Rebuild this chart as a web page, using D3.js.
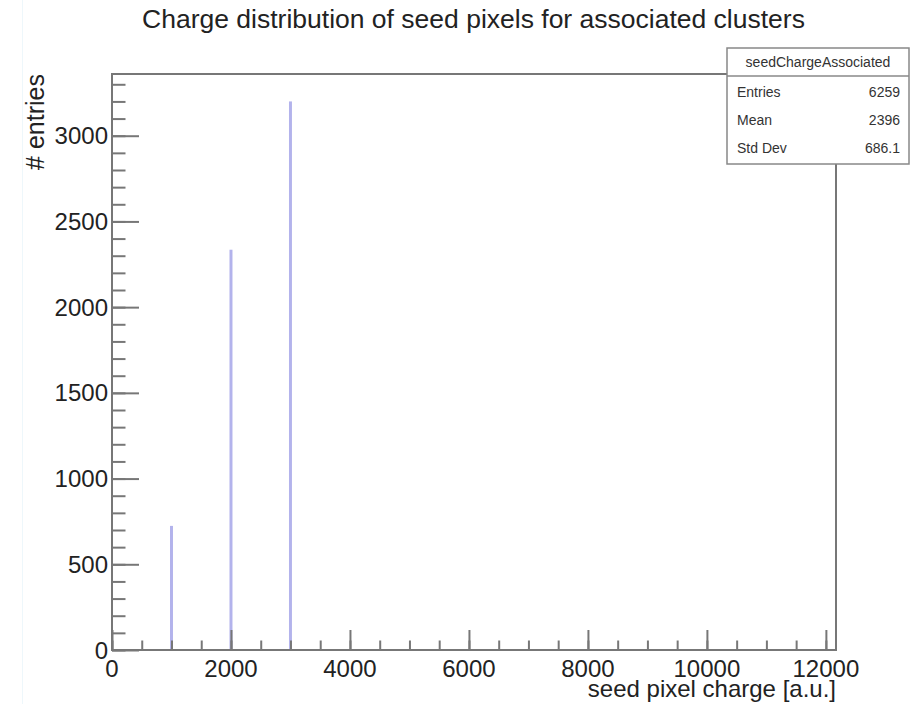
<!DOCTYPE html>
<html>
<head>
<meta charset="utf-8">
<script src="https://cdn.jsdelivr.net/npm/d3@7"></script>
<style>
  html, body { margin: 0; padding: 0; background: #fff; }
  svg { display: block; font-family: "Liberation Sans", Arial, sans-serif; }
</style>
</head>
<body>
<svg id="chart" width="920" height="704"></svg>
<script>
// ---- data ----
const binCenters = [1000, 2000, 3000];
const binCounts = [724, 2335, 3200];
const binWidth = 50;
const xDomain = [0, 12170];
const yDomain = [0, 3360];
const xMajorTicks = [0, 2000, 4000, 6000, 8000, 10000, 12000];
const xMinorTicks = d3.range(0, 12001, 500);
const yMajorTicks = [0, 500, 1000, 1500, 2000, 2500, 3000];
const yMinorTicks = d3.range(0, 3301, 100);
const statsName = "seedChargeAssociated";
const statsLabels = ["Entries", "Mean", "Std Dev"];
const statsValues = ["6259", "2396", "686.1"];
const titleText = "Charge distribution of seed pixels for associated clusters";
const xTitle = "seed pixel charge [a.u.]";
const yTitle = "# entries";

// ---- layout ----
const svg = d3.select("#chart");
const L = 112, R = 836, T = 74, B = 650;
const x = d3.scaleLinear().domain(xDomain).range([L, R]);
const y = d3.scaleLinear().domain(yDomain).range([B, T]);
const axisColor = "#777";
const textColor = "#222";

// faint edge line
svg.append("line").attr("x1", 22.5).attr("x2", 22.5).attr("y1", 0).attr("y2", 704)
  .attr("stroke", "#eef7fb").attr("stroke-width", 1);

// title
svg.append("text").attr("x", 473.5).attr("y", 28).attr("text-anchor", "middle")
  .attr("font-size", 26.5).attr("fill", textColor).text(titleText);

// bars
svg.append("g").selectAll("rect").data(binCenters).join("rect")
  .attr("x", d => x(d - binWidth / 2))
  .attr("width", d => x(d + binWidth / 2) - x(d - binWidth / 2))
  .attr("y", (d, i) => y(binCounts[i]))
  .attr("height", (d, i) => y(0) - y(binCounts[i]))
  .attr("fill", "#b3b3ec");

// frame
svg.append("rect").attr("x", L).attr("y", T).attr("width", R - L).attr("height", B - T)
  .attr("fill", "none").attr("stroke", axisColor).attr("stroke-width", 2);

// x axis ticks
const xAxisMinor = d3.axisTop(x).tickValues(xMinorTicks).tickSize(9.5).tickFormat("");
const xAxisMajor = d3.axisTop(x).tickValues(xMajorTicks).tickSize(20).tickFormat("");
[xAxisMinor, xAxisMajor].forEach(ax => {
  const g = svg.append("g").attr("transform", `translate(0,${B})`).call(ax);
  g.select(".domain").remove();
  g.selectAll("line").attr("stroke", axisColor).attr("stroke-width", 2);
});
// y axis ticks
const yAxisMinor = d3.axisRight(y).tickValues(yMinorTicks).tickSize(13.5).tickFormat("");
const yAxisMajor = d3.axisRight(y).tickValues(yMajorTicks).tickSize(27).tickFormat("");
[yAxisMinor, yAxisMajor].forEach(ax => {
  const g = svg.append("g").attr("transform", `translate(${L},0)`).call(ax);
  g.select(".domain").remove();
  g.selectAll("line").attr("stroke", axisColor).attr("stroke-width", 2);
});

// tick labels
svg.append("g").selectAll("text").data(xMajorTicks).join("text")
  .attr("x", d => x(d)).attr("y", 677).attr("text-anchor", "middle")
  .attr("font-size", 24).attr("fill", textColor).text(d => d);
svg.append("g").selectAll("text").data(yMajorTicks).join("text")
  .attr("x", 108).attr("y", d => y(d) + 8.5).attr("text-anchor", "end")
  .attr("font-size", 24).attr("fill", textColor).text(d => d);

// axis titles
svg.append("text").attr("x", R).attr("y", 697).attr("text-anchor", "end")
  .attr("font-size", 24).attr("fill", textColor).text(xTitle);
svg.append("text").attr("transform", `translate(44,${T}) rotate(-90)`)
  .attr("text-anchor", "end").attr("font-size", 25).attr("fill", textColor).text(yTitle);

// stats box
const sx0 = 727, sx1 = 909, sy0 = 48, sy1 = 164, sHead = 76;
const sb = svg.append("g");
sb.append("rect").attr("x", sx0).attr("y", sy0).attr("width", sx1 - sx0).attr("height", sy1 - sy0)
  .attr("fill", "#fff").attr("stroke", "#888").attr("stroke-width", 1.5);
sb.append("line").attr("x1", sx0).attr("x2", sx1).attr("y1", sHead).attr("y2", sHead)
  .attr("stroke", "#888").attr("stroke-width", 1.5);
sb.append("text").attr("x", (sx0 + sx1) / 2).attr("y", 67).attr("text-anchor", "middle")
  .attr("font-size", 14).attr("fill", "#333").text(statsName);
const rowY = [96.5, 124.5, 152.5];
sb.selectAll("text.lab").data(statsLabels).join("text").attr("class", "lab")
  .attr("x", 737).attr("y", (d, i) => rowY[i]).attr("font-size", 14).attr("fill", "#333").text(d => d);
sb.selectAll("text.val").data(statsValues).join("text").attr("class", "val")
  .attr("x", 900).attr("y", (d, i) => rowY[i]).attr("text-anchor", "end")
  .attr("font-size", 14).attr("fill", "#333").text(d => d);
</script>
</body>
</html>
